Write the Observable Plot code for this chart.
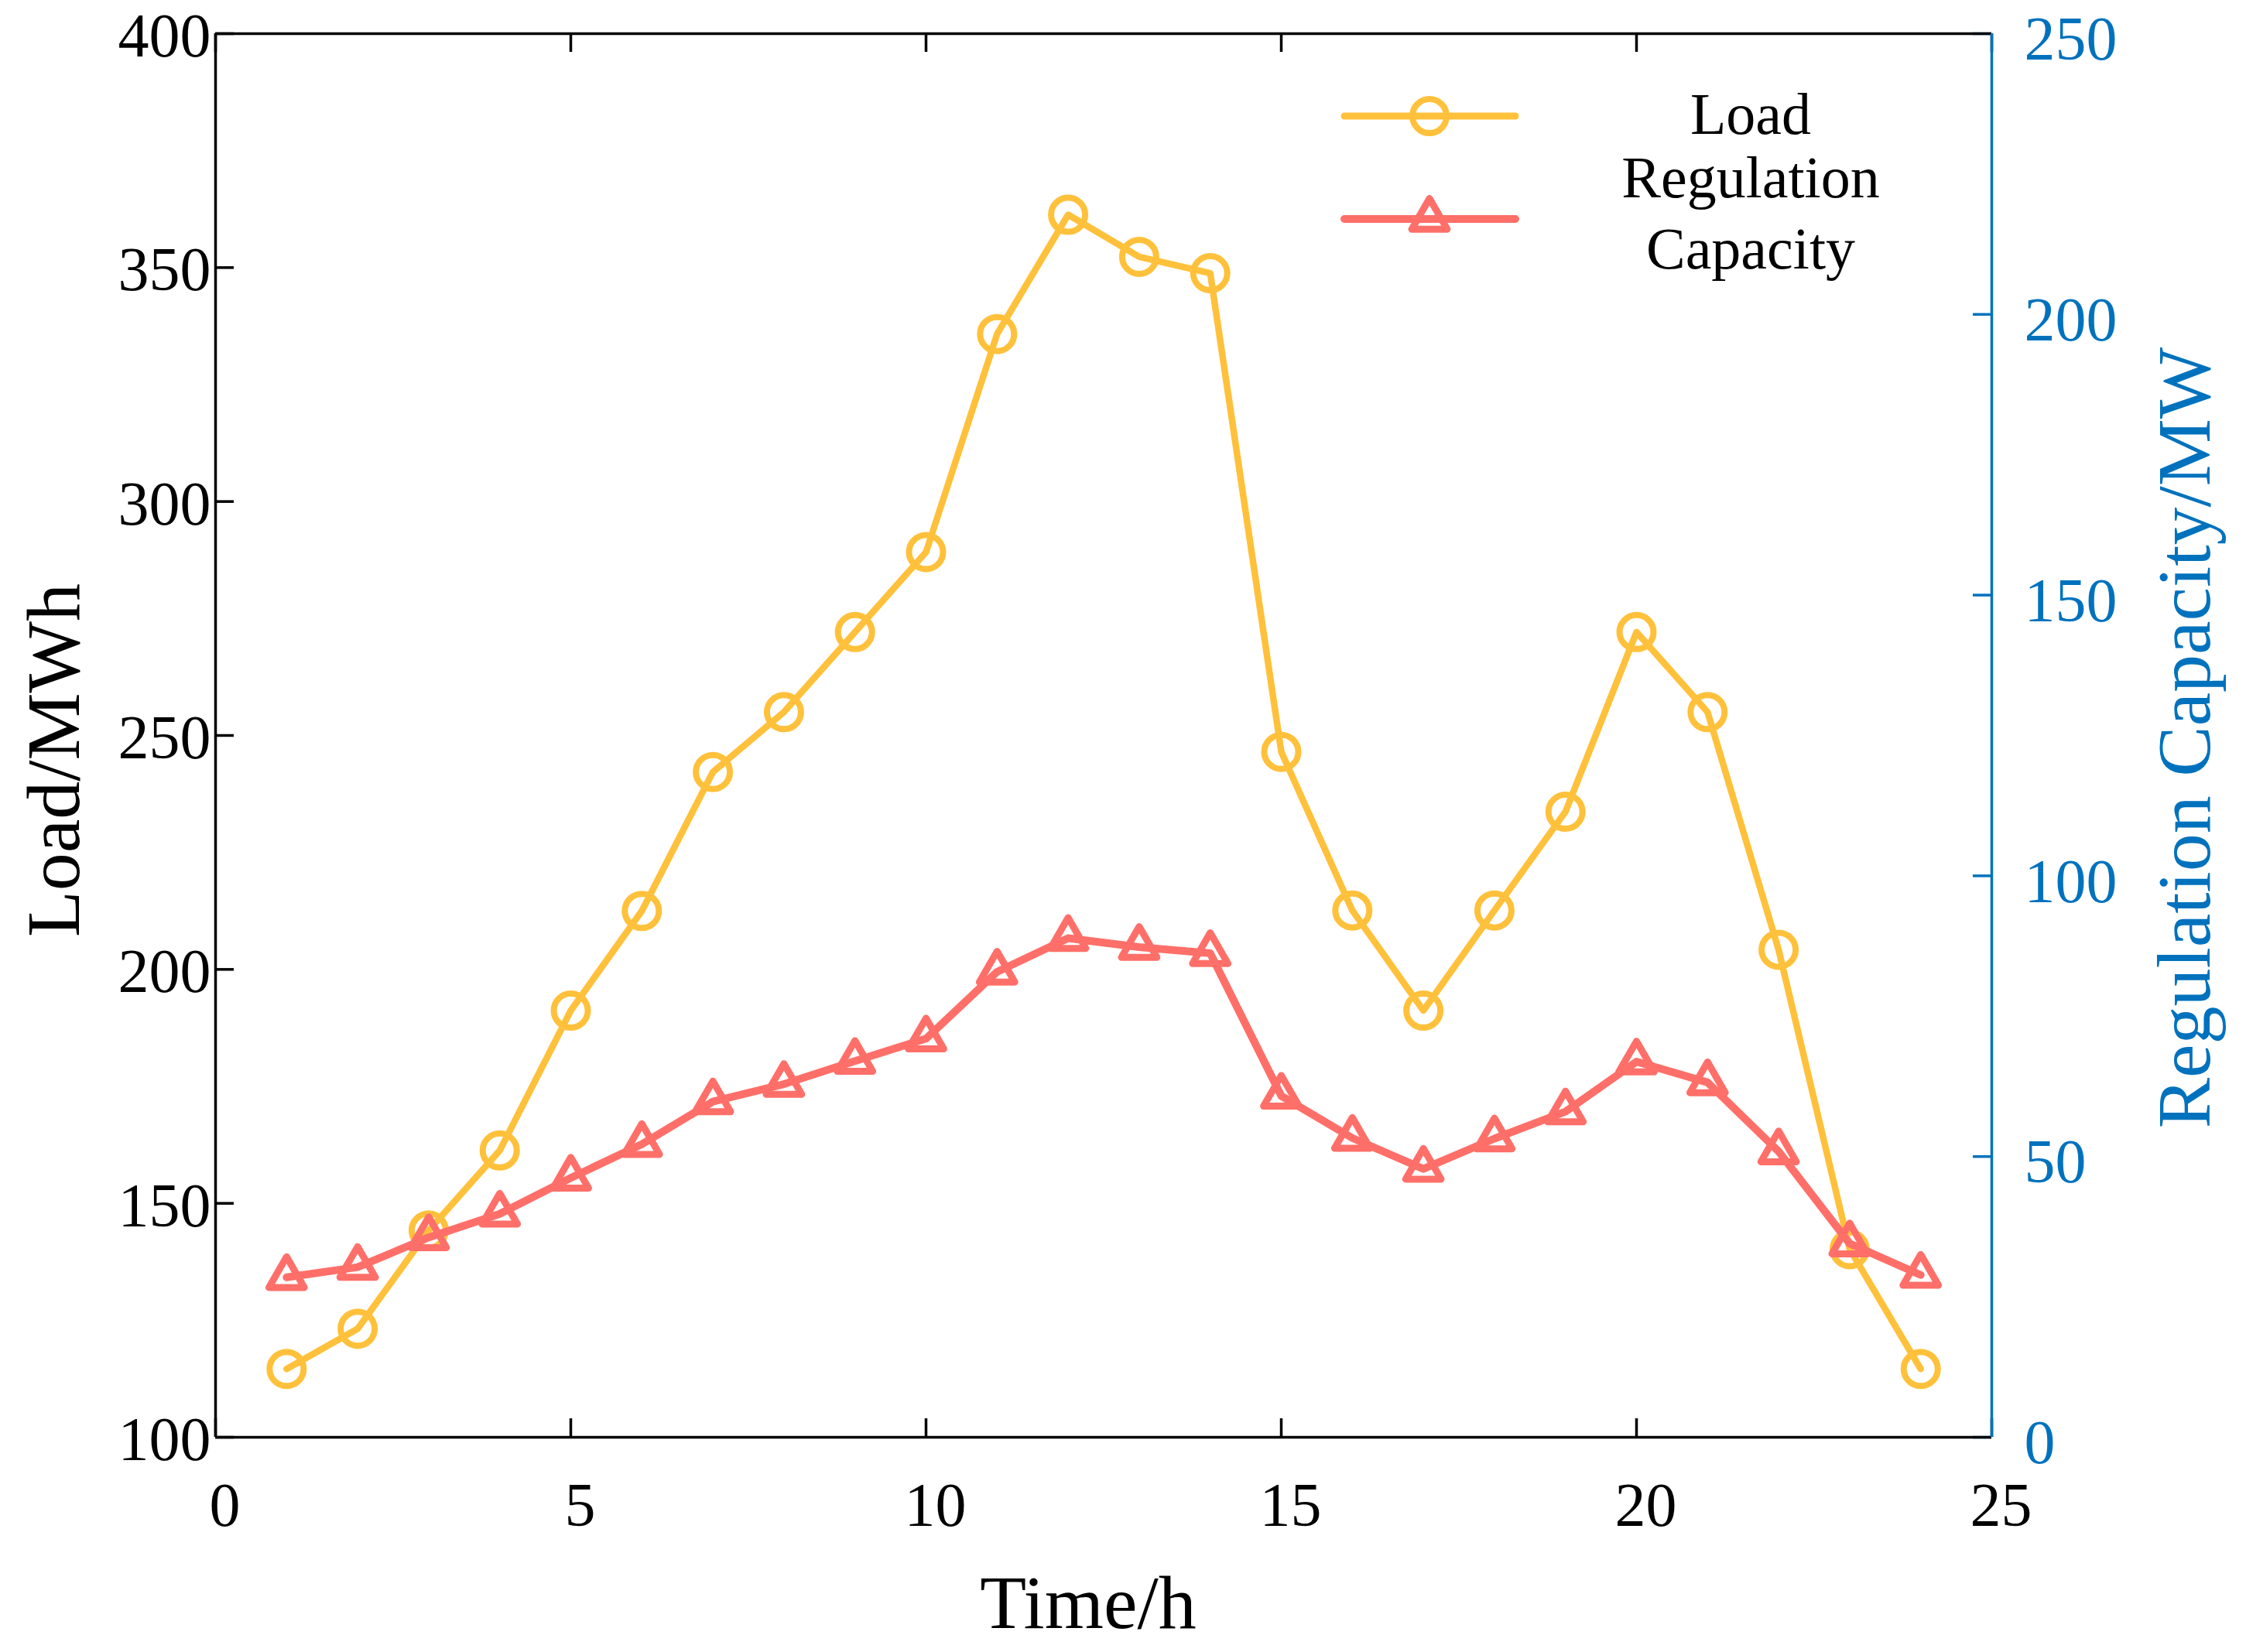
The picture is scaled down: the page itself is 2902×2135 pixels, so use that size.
<!DOCTYPE html>
<html>
<head>
<meta charset="utf-8">
<script src="https://cdn.jsdelivr.net/npm/d3@7"></script>
<script src="https://cdn.jsdelivr.net/npm/@observablehq/plot@0.6"></script>
<style>
  body { margin: 0; background: #fff; overflow: hidden; }
  #grafico { position: relative; width: 2902px; height: 2135px; }
  #leyenda { position: absolute; left: 0; top: 0; pointer-events: none; }
</style>
</head>
<body>
<div id="grafico"></div>
<script>
// datos
const horas = [1,2,3,4,5,6,7,8,9,10,11,12,13,14,15,16,17,18,19,20,21,22,23,24]
const carga = [114.6, 123.2, 144.2, 161.3, 191.2, 212.5, 242.2, 255.0, 272.1, 289.2, 335.8, 361.3,
               352.3, 348.8, 246.5, 212.6, 191.2, 212.6, 233.7, 272.1, 255.0, 204.2, 140.2, 114.6]
const capacidad = [28.5, 30.3, 35.6, 39.8, 46.2, 52.2, 59.8, 62.9, 67.0, 71.0, 82.9, 88.9,
                   87.3, 86.2, 60.8, 53.3, 47.8, 53.2, 58.0, 66.9, 63.2, 50.9, 34.5, 28.9]
const ticksX = [0, 5, 10, 15, 20, 25]
const ticksCarga = [100, 150, 200, 250, 300, 350, 400]
const ticksCapacidad = [0, 50, 100, 150, 200, 250]
const nombres = ["Load", "Regulation Capacity"]

const amarillo = "#FFC13B"
const rojo = "#FF6F69"
const azul = "#0072BD"
const fuente = "'Liberation Serif', 'Times New Roman', serif"

// el eje derecho (0-250) se dibuja sobre la escala izquierda (100-400)
const aIzq = v => 100 + v * 300 / 250
const aDer = v => Math.round((v - 100) * 250 / 300)

const datos = horas.map((h, i) => ({hora: h, carga: carga[i], capacidad: aIzq(capacidad[i])}))

const W = 2902, H = 2135
const mL = 278, mR = 329, mT = 43, mB = 278
const anchoFrame = W - mL - mR
const altoFrame = H - mT - mB
const tick = 24

let chart = Plot.plot({
  width: W,
  height: H,
  marginLeft: mL,
  marginRight: mR,
  marginTop: mT,
  marginBottom: mB,
  style: {fontFamily: fuente, fontSize: "80px", color: "black", background: "white"},
  x: {domain: [0, 25]},
  y: {domain: [100, 400]},
  marks: [
    // ticks hacia adentro
    Plot.tickX(ticksX, {x: d => d, insetTop: altoFrame - tick, stroke: "black", strokeWidth: 3.5}),
    Plot.tickX(ticksX, {x: d => d, insetBottom: altoFrame - tick, stroke: "black", strokeWidth: 3.5}),
    Plot.tickY(ticksCarga, {y: d => d, insetRight: anchoFrame - tick, stroke: "black", strokeWidth: 3.5}),
    Plot.tickY(ticksCapacidad.map(aIzq), {y: d => d, insetLeft: anchoFrame - tick, stroke: azul, strokeWidth: 3.5}),

    // caja
    Plot.ruleX([0], {stroke: "black", strokeWidth: 3.5}),
    Plot.ruleY([100], {stroke: "black", strokeWidth: 3.5}),
    Plot.ruleY([400], {stroke: "black", strokeWidth: 3.5}),
    Plot.ruleX([25], {stroke: azul, strokeWidth: 3.5}),

    Plot.axisX({ticks: ticksX, tickSize: 0, tickPadding: 58, fontSize: 80, dx: 12, label: null}),
    Plot.axisY({ticks: ticksCarga, tickSize: 0, tickPadding: 6, fontSize: 80, dy: 4, label: null}),
    Plot.axisY({ticks: ticksCapacidad.map(aIzq), anchor: "right", tickFormat: aDer, tickSize: 0,
                tickPadding: 42, fontSize: 80, dy: 8, color: azul, label: null}),

    // titulos de ejes
    Plot.text(["Time/h"], {text: d => d, frameAnchor: "bottom", textAnchor: "middle", dy: 246, dx: -20,
                           fontSize: 98, fill: "black"}),
    Plot.text(["Load/MWh"], {text: d => d, frameAnchor: "left", textAnchor: "middle", rotate: -90,
                             dx: -208, dy: 32, fontSize: 98, fill: "black"}),
    Plot.text(["Regulation Capacity/MW"], {text: d => d, frameAnchor: "right", textAnchor: "middle", rotate: -90,
                                           dx: 250, dy: 3, fontSize: 98, fill: azul}),

    // series
    Plot.line(datos, {x: "hora", y: "carga", stroke: amarillo, strokeWidth: 8.5}),
    Plot.dot(datos, {x: "hora", y: "carga", r: 22, stroke: amarillo, strokeWidth: 8, fill: "none"}),
    Plot.line(datos, {x: "hora", y: "capacidad", stroke: rojo, strokeWidth: 10}),
    Plot.dot(datos, {x: "hora", y: "capacidad", symbol: "triangle", r: 17, stroke: rojo, strokeWidth: 9,
                     fill: "none", strokeLinejoin: "round"}),
  ],
})

d3.select('#grafico').append(() => chart)

// leyenda arriba a la derecha
const leyenda = d3.select('#grafico').append('svg')
  .attr('id', 'leyenda').attr('width', W).attr('height', H)

const filas = [
  {nombre: nombres[0], color: amarillo, y: 150, ancho: 9, simbolo: d3.symbolCircle, r: 22, trazo: 8},
  {nombre: nombres[1], color: rojo, y: 283, ancho: 10, simbolo: d3.symbolTriangle, r: 17, trazo: 9},
]
filas.forEach(f => {
  leyenda.append('line')
    .attr('x1', 1737).attr('x2', 1958).attr('y1', f.y).attr('y2', f.y)
    .attr('stroke', f.color).attr('stroke-width', f.ancho).attr('stroke-linecap', 'round')
  leyenda.append('path')
    .attr('transform', `translate(1847,${f.y})`)
    .attr('d', d3.symbol(f.simbolo, f.r * f.r * Math.PI)())
    .attr('fill', 'none').attr('stroke', f.color).attr('stroke-width', f.trazo)
    .attr('stroke-linejoin', 'round')
})

const lineasTexto = [["Load", 173], ["Regulation", 255], ["Capacity", 347]]
lineasTexto.forEach(([t, y]) => {
  leyenda.append('text')
    .attr('x', 2262).attr('y', y)
    .attr('text-anchor', 'middle')
    .attr('font-family', fuente).attr('font-size', 76)
    .attr('fill', 'black')
    .text(t)
})
</script>
</body>
</html>
